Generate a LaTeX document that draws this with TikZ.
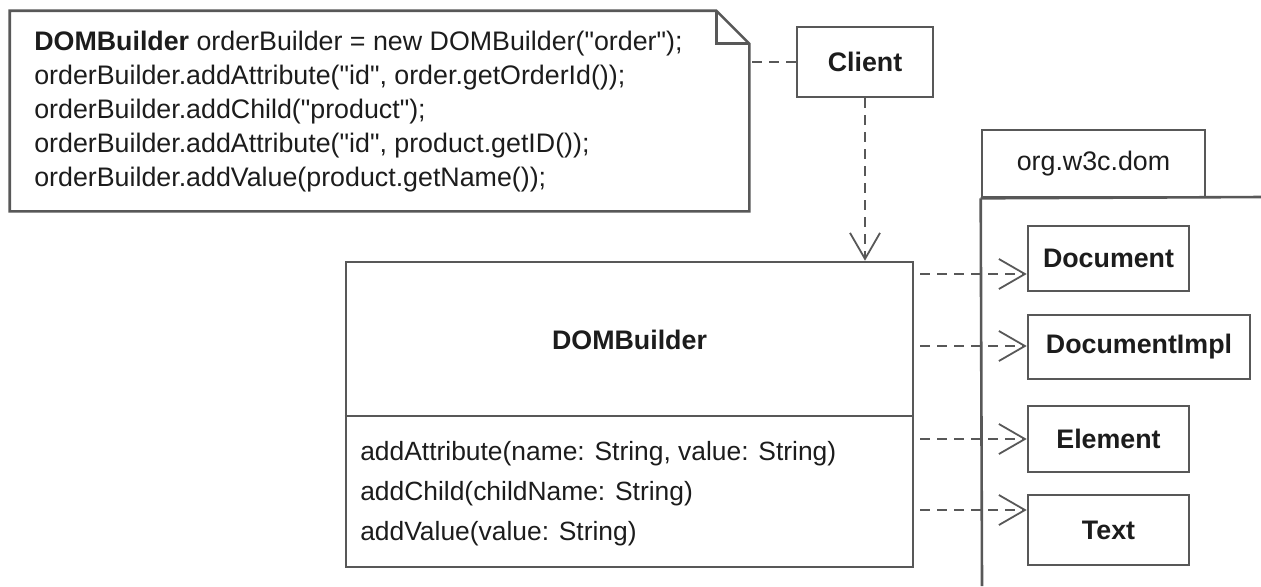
\documentclass[tikz,border=0pt]{standalone}
\usepackage{fontspec}
\setmainfont{Liberation Sans}[Ligatures=TeXOff]
\usepackage{tikz}
\usetikzlibrary{arrows.meta}
\definecolor{umlgray}{HTML}{585858}
\definecolor{umltext}{HTML}{1C1C1C}

\begin{document}
\begin{tikzpicture}[x=0.5pt,y=-0.5pt,line width=1.3pt,text=umltext,
  font=\fontsize{13.4}{17}\selectfont,
  class node/.style={rectangle,draw=umlgray,inner sep=0pt,font=\fontsize{13.4}{17}\selectfont\bfseries},
  link/.style={draw=umlgray,dash pattern=on 5pt off 3.5pt},
  dep/.style={link,-{Straight Barb[length=13pt,width=15pt,line width=0.9pt]}}]
  \useasboundingbox (0,0) rectangle (1261,586);

  % note
  \node[rectangle,inner sep=0pt,minimum width=368.5pt,minimum height=99pt] (note) at (379.5,111) {};
  \draw[umlgray] (note.south west) -- (note.north west) -- ([xshift=-16.5pt]note.north east)
    -- ([yshift=-16.5pt]note.north east) -- (note.south east) -- cycle;
  \draw[umlgray] ([xshift=-16.5pt]note.north east) -- ([xshift=-16.5pt,yshift=-16.5pt]note.north east)
    -- ([yshift=-16.5pt]note.north east);
  \node[anchor=west,align=left,inner sep=0pt] (notetext) at (33,112) {%
    \textbf{DOMBuilder} orderBuilder = new DOMBuilder("order");\\
    orderBuilder.addAttribute("id", order.getOrderId());\\
    orderBuilder.addChild("product");\\
    orderBuilder.addAttribute("id", product.getID());\\
    orderBuilder.addValue(product.getName());};

  \node[class node,minimum width=68pt,minimum height=35pt] (client) at (865,62) {Client};

  % DOMBuilder class
  \node[class node,minimum width=283.5pt,minimum height=152.5pt] (dom) at (629.5,414.5) {};
  \draw[umlgray] (dom.west |- 0,416) -- (dom.east |- 0,416);
  \node[font=\fontsize{13.4}{17}\selectfont\bfseries] (domname) at (629.5,340) {DOMBuilder};
  \node[anchor=west,align=left,inner sep=0pt,font=\fontsize{13.2}{20}\selectfont] (dommethods) at (359,494) {%
    addAttribute(name: String, value: String)\\
    addChild(childName: String)\\
    addValue(value: String)};

  % package org.w3c.dom
  \node[rectangle,draw=umlgray,inner sep=0pt,minimum width=111.5pt,minimum height=33.5pt] (pkg) at (1093.5,163.5) {org.w3c.dom};
  \draw[umlgray] (pkg.south west) -- (1261,197);
  \draw[umlgray] (pkg.south west) -- (982,586);

  \node[class node,minimum width=80.5pt,minimum height=32.5pt] (doc) at (1108.5,258.5) {Document};
  \node[class node,minimum width=111pt,minimum height=32pt] (impl) at (1139,347) {DocumentImpl};
  \node[class node,minimum width=80.5pt,minimum height=33pt] (elem) at (1108.5,439) {Element};
  \node[class node,minimum width=80.5pt,minimum height=35pt] (txt) at (1108.5,530) {Text};

  \coordinate (d1) at (920,274);
  \coordinate (d2) at (920,346);
  \coordinate (d3) at (920,439);
  \coordinate (d4) at (920,510);

  \draw[link] (client.west) -- (client.west -| note.east);
  \path
    (client.south) edge[dep] (client.south |- dom.north)
    (d1) edge[dep] (d1 -| doc.west)
    (d2) edge[dep] (d2 -| impl.west)
    (d3) edge[dep] (d3 -| elem.west)
    (d4) edge[dep] (d4 -| txt.west);
\end{tikzpicture}
\end{document}
